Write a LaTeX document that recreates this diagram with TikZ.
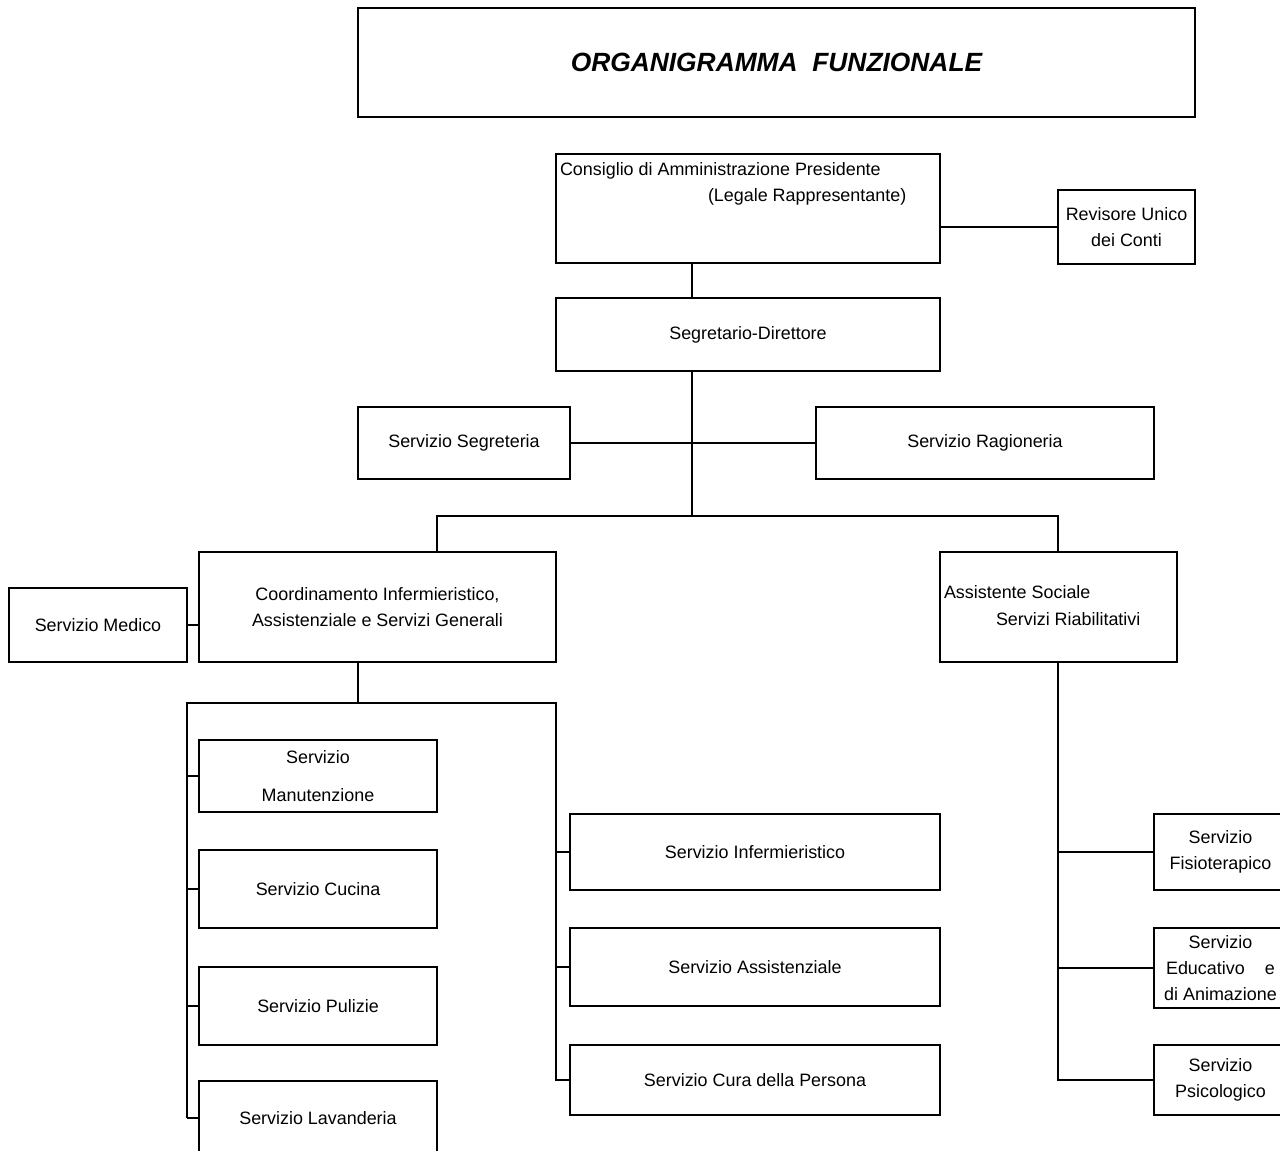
\documentclass[tikz,border=0pt]{standalone}
\usepackage{fontspec}
\setmainfont{Liberation Sans}
\newdimen\pxu \pxu=0.02cm
\tikzset{
  box/.style={draw, line width=1.1pt, rectangle, inner sep=0pt, outer sep=0pt, align=center, font=\fontsize{10.2}{14.7}\selectfont},
  txt/.style={inner sep=0pt, outer sep=0pt, align=left, font=\fontsize{10.2}{14.7}\selectfont},
  conn/.style={line width=1.1pt}
}
\newcommand\bx[6]{\node[box, minimum width={(#4-#2)*\pxu}, minimum height={(#5-#3)*\pxu}] (#1) at ({(#2+#4)/2},{(#3+#5)/2}) {#6};}
\begin{document}
\begin{tikzpicture}[x=0.02cm, y=-0.02cm]
\useasboundingbox (0,0) rectangle (1280,1151);
\clip (0,0) rectangle (1280,1151);
\fill[white] (0,0) rectangle (1280,1151);
% boxes
\bx{title}{358}{8}{1195}{117}{\fontsize{15}{18}\selectfont\bfseries\itshape ORGANIGRAMMA\ \ FUNZIONALE}
\bx{cons}{556}{154}{940}{263}{}
\node[txt, anchor=west] (consA) at (560,171) {Consiglio di Amministrazione Presidente};
\node[txt, anchor=west] (consB) at (708,197) {(Legale Rappresentante)};
\bx{rev}{1058}{190}{1195}{264}{Revisore Unico\\dei Conti}
\bx{segr}{556}{298}{940}{371}{Segretario-Direttore}
\bx{segt}{358}{407}{570}{479}{Servizio Segreteria}
\bx{rag}{816}{407}{1154}{479}{Servizio Ragioneria}
\bx{coord}{199}{552}{556}{662}{Coordinamento Infermieristico,\\Assistenziale e Servizi Generali}
\bx{med}{9}{588}{187}{662}{Servizio Medico}
\bx{ass}{940}{552}{1177}{662}{}
\node[txt, anchor=west] (assA) at (944,592) {Assistente Sociale};
\node[txt, anchor=west] (assB) at (996,619) {Servizi Riabilitativi};
% left column
\bx{man}{199}{740}{437}{812}{Servizio\\[7pt]Manutenzione}
\bx{cuc}{199}{850}{437}{928}{Servizio Cucina}
\bx{pul}{199}{967}{437}{1045}{Servizio Pulizie}
\bx{lav}{199}{1081}{437}{1155}{Servizio Lavanderia}
% middle column
\bx{inf}{570}{814}{940}{890}{Servizio Infermieristico}
\bx{asz}{570}{928}{940}{1006}{Servizio Assistenziale}
\bx{cura}{570}{1045}{940}{1115}{Servizio Cura della Persona}
% right column
\bx{fis}{1154}{814}{1287}{890}{Servizio\\Fisioterapico}
\bx{edu}{1154}{928}{1287}{1008}{Servizio\\\makebox[62pt]{Educativo\hfill e}\\di Animazione}
\bx{psi}{1154}{1045}{1287}{1115}{Servizio\\Psicologico}
% coordinates
\coordinate (trunk) at (692,516);
\coordinate (lj) at (437,516);
\coordinate (rj) at (1058,516);
\coordinate (cb) at (358,703);
\coordinate (bl) at (187,703);
\coordinate (br) at (556,703);
% connectors
\draw[conn] (cons.east |- rev.west) -- (rev.west);
\draw[conn] (cons.south -| trunk) -- (segr.north -| trunk);
\draw[conn] (segr.south -| trunk) -- (trunk);
\draw[conn] (segt.east) -- (rag.west);
\draw[conn] (lj |- coord.north) -- (lj) -- (rj) -- (rj |- ass.north);
\draw[conn] (med.east) -- (coord.west |- med.east);
\draw[conn] (cb |- coord.south) -- (cb);
\draw[conn] (bl |- lav.west) -- (bl) -- (br) -- (br |- cura.west) -- (cura.west);
\draw[conn] (lav.west) -- (bl |- lav.west);
\draw[conn] (bl |- man.west) -- (man.west);
\draw[conn] (bl |- cuc.west) -- (cuc.west);
\draw[conn] (bl |- pul.west) -- (pul.west);
\draw[conn] (br |- inf.west) -- (inf.west);
\draw[conn] (br |- asz.west) -- (asz.west);
\draw[conn] (rj |- ass.south) -- (rj |- psi.west) -- (psi.west);
\draw[conn] (rj |- fis.west) -- (fis.west);
\draw[conn] (rj |- edu.west) -- (edu.west);
\end{tikzpicture}
\end{document}
